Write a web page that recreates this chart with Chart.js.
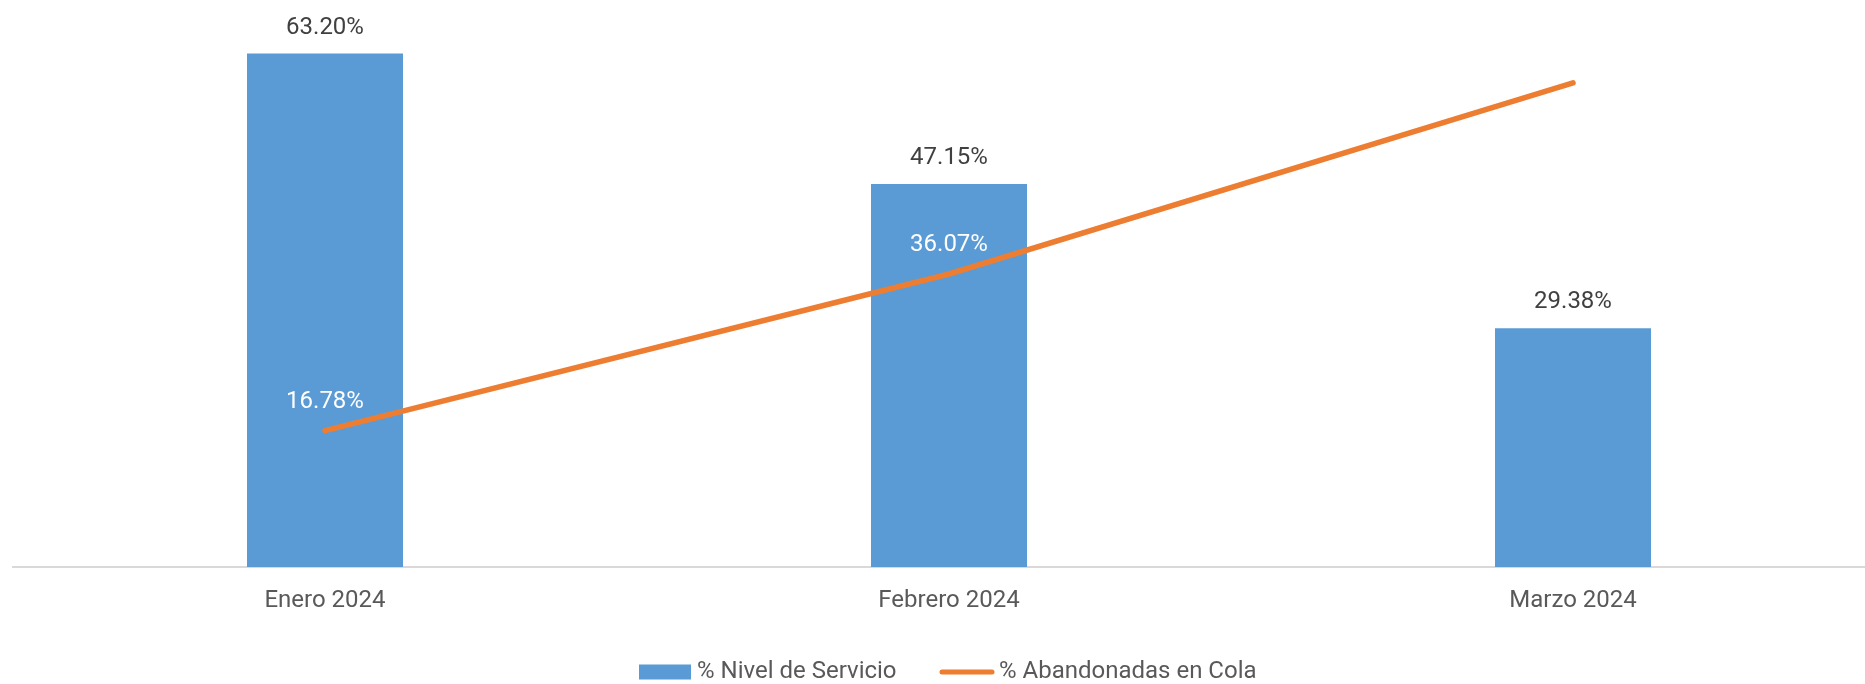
<!DOCTYPE html>
<html>
<head>
<meta charset="utf-8">
<script src="https://cdn.jsdelivr.net/npm/chart.js@4/dist/chart.umd.min.js"></script>
<style>
  html, body { margin: 0; padding: 0; background: #fff; overflow: hidden; }
  #wrap { position: relative; width: 1885px; height: 684px; }
</style>
</head>
<body>
<div id="wrap"><canvas id="comboChart"></canvas></div>
<script>
// datos del gráfico
var meses = ["Enero 2024", "Febrero 2024", "Marzo 2024"];
var nivelServicio = [63.20, 47.15, 29.38];
var abandonadas = [16.78, 36.07, 59.60];
var nombreNivel = "% Nivel de Servicio";
var nombreAband = "% Abandonadas en Cola";

var azul = "#5B9BD5";
var naranja = "#ED7D31";
var FUENTE = "Roboto, 'Open Sans', sans-serif";

// etiquetas de valores y leyenda dibujadas a mano
var etiquetas = {
  id: "etiquetas",
  afterDatasetsDraw: function (chart) {
    var ctx = chart.ctx;
    ctx.save();
    ctx.font = "24px " + FUENTE;
    ctx.textAlign = "center";
    ctx.textBaseline = "middle";
    chart.data.datasets.forEach(function (ds, i) {
      var meta = chart.getDatasetMeta(i);
      meta.data.forEach(function (el, j) {
        var txt = ds.data[j].toFixed(2) + "%";
        if (ds.type === "line") {
          ctx.fillStyle = "#ffffff";
          ctx.fillText(txt, el.x, el.y - 29);
        } else {
          ctx.fillStyle = "#404040";
          ctx.fillText(txt, el.x, el.y - 26);
        }
      });
    });

    // leyenda
    var y = 672;
    ctx.textAlign = "left";
    ctx.fillStyle = azul;
    ctx.fillRect(639, y - 7.5, 52, 15);
    ctx.fillStyle = "#595959";
    ctx.fillText(nombreNivel, 697, y);
    ctx.strokeStyle = naranja;
    ctx.lineWidth = 5;
    ctx.lineCap = "round";
    ctx.beginPath();
    ctx.moveTo(942, y);
    ctx.lineTo(992, y);
    ctx.stroke();
    ctx.fillStyle = "#595959";
    ctx.fillText(nombreAband, 999, y);
    ctx.restore();
  },
};

var ctx = document.getElementById("comboChart").getContext("2d");

new Chart(ctx, {
  data: {
    labels: meses,
    datasets: [
      {
        type: "line",
        label: nombreAband,
        data: abandonadas,
        borderColor: naranja,
        borderWidth: 5.5,
        borderCapStyle: "round",
        pointRadius: 0,
        tension: 0,
        order: 1,
      },
      {
        type: "bar",
        label: nombreNivel,
        data: nivelServicio,
        backgroundColor: azul,
        barPercentage: 0.25,
        categoryPercentage: 1,
        order: 2,
      },
    ],
  },
  options: {
    responsive: true,
    maintainAspectRatio: false,
    animation: false,
    layout: { padding: { left: 13, right: 0, top: 0, bottom: 0 } },
    plugins: {
      legend: { display: false },
      tooltip: { enabled: false },
    },
    scales: {
      x: {
        grid: { display: false },
        border: { display: true, color: "#D9D9D9", width: 2 },
        ticks: {
          color: "#595959",
          font: { family: FUENTE, size: 24 },
          padding: 12,
        },
        afterFit: function (scale) {
          scale.height = 117;
        },
      },
      y: {
        display: false,
        min: 0,
        max: 69.8,
      },
    },
  },
  plugins: [etiquetas],
});
</script>
</body>
</html>
